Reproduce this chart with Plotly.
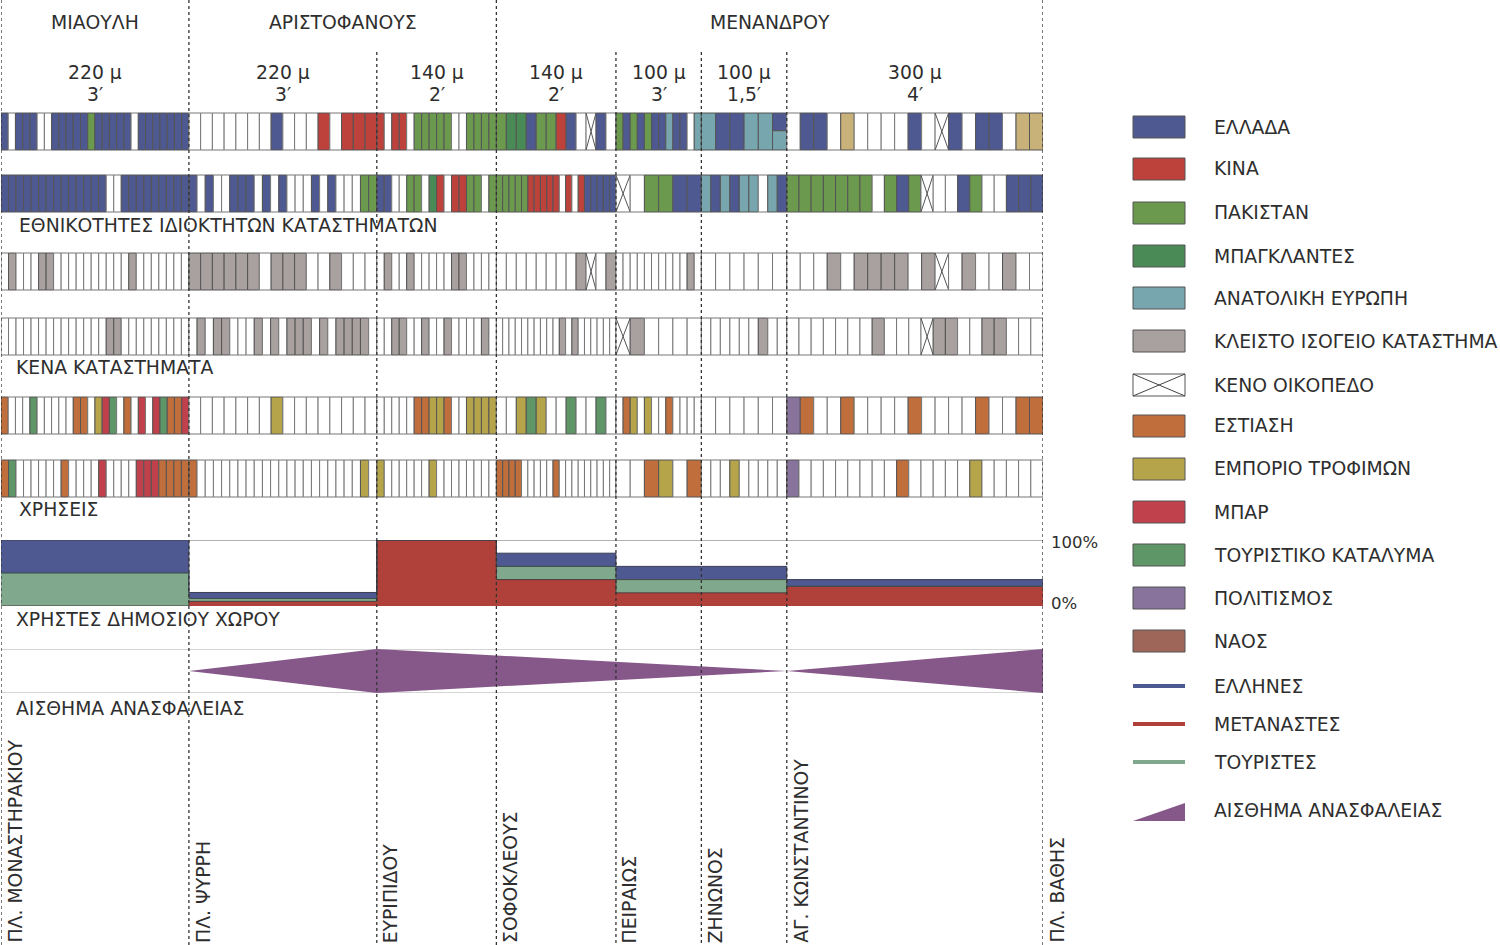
import plotly.graph_objects as go

# ---------------- DATA ----------------
SEG_BOUNDS_M = [0, 220, 440, 580, 720, 820, 920, 1220]
SEG_LENGTH = ["220 μ", "220 μ", "140 μ", "140 μ", "100 μ", "100 μ", "300 μ"]
SEG_TIME = ["3′", "3′", "2′", "2′", "3′", "1,5′", "4′"]
STREETS = ["ΜΙΑΟΥΛΗ", "ΑΡΙΣΤΟΦΑΝΟΥΣ", "ΜΕΝΑΝΔΡΟΥ"]
STREET_SPANS = [(0, 220), (220, 580), (580, 1220)]
CROSS_STREETS = ["ΠΛ. ΜΟΝΑΣΤΗΡΑΚΙΟΥ", "ΠΛ. ΨΥΡΡΗ", "ΕΥΡΙΠΙΔΟΥ", "ΣΟΦΟΚΛΕΟΥΣ",
                 "ΠΕΙΡΑΙΩΣ", "ΖΗΝΩΝΟΣ", "ΑΓ. ΚΩΝΣΤΑΝΤΙΝΟΥ", "ΠΛ. ΒΑΘΗΣ"]

# shop strips, one string per segment, one letter per shop front
OWNERS_SIDE_A = ["GWGGGWWGGGGGPGGGGGWGGGGGGG", "WWWWWWWGWWWCWCCC", "CWCCWPPPPPWWPPPP",
                 "PBBGPPCGWXGW", "PGPGPGGEGGWE", "EGGEES", "WGGWYWWWWGWXGWGGWYY"]
OWNERS_SIDE_B = ["GGGGGGGGGGGGGGWWGGGGGGGGG", "GWGWWGGGWGWGWWWGWGWWWPP", "GGWWPPWBCWCCPPWP",
                 "PPPPPCCCCCWCWCGGGGG", "XWPPGG", "EGEGEEWEG", "PPPPPPPWPGPXWWGPWWGGG"]
VACANT_SIDE_A = ["WKWWWKKWWWWWWWWWWKWWWWWWW", "KKKKKKWKKKWWKWWW", "WKWWKWWWWWKKWWWW",
                 "WWWWWWWWKXWK", "WWWWWWWWWWKW", "WWWWWW", "WWWKWKKKKWKXWKWWKWW"]
VACANT_SIDE_B = ["WWWWWWWWWWWWWWKKWWWWWWWWW", "WKWKKWWWKWKWKKKWKWKKKKW", "WWKKWWKWWKWWWWKW",
                 "WWWWWWWWWWKWKWWWWWW", "XKWWWW", "WWWWWWKWW", "WWWWWWWKWWWXKKWWKKWWW"]
USES_SIDE_A = ["RWWWTWWWWWRRWFMTWRWMWMTRRM", "WWWWWWWFWWWWWWWW", "WWWWWRRFFRWWFFFF",
               "WWFTFWWTWWTW", "WRFWFWWRWWWW", "WWWWWW", "LRWWRWWWWRWWWWRWWRR"]
USES_SIDE_B = ["RTWWWWWWRWWWWMWWWWMMMRRRR", "RWWWWWWWWWWWWWWWWWWWWFW", "FWWWWWWFWWWWWWWW",
               "RRRRWWWWWRWWWWWWWWW", "WWRFWR", "WWWFWWWWW", "LWWWWWWWWRWWWWWFWWWWW"]

# public space users (% per segment)
MIGRANTS = [0, 7, 100, 40, 20, 20, 30]
TOURISTS = [50, 4.5, 0, 20, 20, 20, 0]
GREEKS = [50, 9, 0, 20, 20, 20, 10]

# feeling of insecurity (0..1) at segment boundaries
INSEC_X = [220, 440, 920, 1220]
INSEC_V = [0, 1, 0, 1]

LEGEND_LABELS = ["ΕΛΛΑΔΑ", "ΚΙΝΑ", "ΠΑΚΙΣΤΑΝ", "ΜΠΑΓΚΛΑΝΤΕΣ", "ΑΝΑΤΟΛΙΚΗ ΕΥΡΩΠΗ",
                 "ΚΛΕΙΣΤΟ ΙΣΟΓΕΙΟ ΚΑΤΑΣΤΗΜΑ", "ΚΕΝΟ ΟΙΚΟΠΕΔΟ", "ΕΣΤΙΑΣΗ", "ΕΜΠΟΡΙΟ ΤΡΟΦΙΜΩΝ",
                 "ΜΠΑΡ", "ΤΟΥΡΙΣΤΙΚΟ ΚΑΤΑΛΥΜΑ", "ΠΟΛΙΤΙΣΜΟΣ", "ΝΑΟΣ",
                 "ΕΛΛΗΝΕΣ", "ΜΕΤΑΝΑΣΤΕΣ", "ΤΟΥΡΙΣΤΕΣ", "ΑΙΣΘΗΜΑ ΑΝΑΣΦΑΛΕΙΑΣ"]
LEGEND_CODES = ["G", "C", "P", "B", "E", "K", "X", "R", "F", "M", "T", "L", "N",
                "line_g", "line_m", "line_t", "tri"]

# ---------------- STYLE ----------------
COLORS = {
    "G": "#4e5891", "C": "#bd423c", "P": "#6b9a4f", "B": "#4a8a57", "E": "#77a6ae",
    "K": "#a9a0a0", "W": "#ffffff", "X": "#ffffff", "R": "#bf6e3c", "F": "#b5a44a",
    "M": "#c0404c", "T": "#5e9668", "L": "#87739c", "N": "#9e6658", "Y": "#c8b27a",
}
C_GREEK, C_MIGR, C_TOUR, C_INSEC = "#4e5891", "#b0403a", "#7fa88c", "#86588a"
TXT = "#2e2e2e"
FONT = "DejaVu Sans"
FS = 18.8
W, H = 1500, 945
X0_PX, X1_PX = 1, 1043
ROW_TOPS = [113, 175, 253, 318, 397, 460]
ROW_H = 37
STRIPS = [OWNERS_SIDE_A, OWNERS_SIDE_B, VACANT_SIDE_A, VACANT_SIDE_B, USES_SIDE_A, USES_SIDE_B]


def py(v):
    return 1 - v / H


def pxp(v):
    return v / W


shapes = []
annotations = []

# ---- strips of shop fronts ----
for strip, top in zip(STRIPS, ROW_TOPS):
    y_top, y_bot = py(top), py(top + ROW_H)
    for si, codes in enumerate(strip):
        a, b = SEG_BOUNDS_M[si], SEG_BOUNDS_M[si + 1]
        w = (b - a) / len(codes)
        for i, c in enumerate(codes):
            x0, x1 = a + i * w, a + (i + 1) * w
            border = "#777777" if c in "WX" else "#555555"
            if c == "S":
                mid = py(top + ROW_H * 0.48)
                shapes.append(dict(type="rect", xref="x", yref="paper", x0=x0, x1=x1, y0=mid, y1=y_top,
                                   fillcolor=COLORS["G"], line=dict(color=border, width=1)))
                shapes.append(dict(type="rect", xref="x", yref="paper", x0=x0, x1=x1, y0=y_bot, y1=mid,
                                   fillcolor=COLORS["E"], line=dict(color=border, width=1)))
                continue
            shapes.append(dict(type="rect", xref="x", yref="paper", x0=x0, x1=x1, y0=y_bot, y1=y_top,
                               fillcolor=COLORS[c], line=dict(color=border, width=1)))
            if c == "X":
                shapes.append(dict(type="line", xref="x", yref="paper", x0=x0, x1=x1, y0=y_bot, y1=y_top,
                                   line=dict(color="#555555", width=1)))
                shapes.append(dict(type="line", xref="x", yref="paper", x0=x0, x1=x1, y0=y_top, y1=y_bot,
                                   line=dict(color="#555555", width=1)))

# ---- reference lines of the lower panels ----
shapes.append(dict(type="line", xref="x", yref="y", x0=SEG_BOUNDS_M[1], x1=SEG_BOUNDS_M[-1], y0=100, y1=100,
                   line=dict(color="#666666", width=1), layer="below"))
shapes.append(dict(type="line", xref="x", yref="y", x0=SEG_BOUNDS_M[0], x1=SEG_BOUNDS_M[-1], y0=0, y1=0,
                   line=dict(color="#999999", width=1), layer="below"))
for yy in (-1, 1):
    shapes.append(dict(type="line", xref="x", yref="y2", x0=SEG_BOUNDS_M[0], x1=SEG_BOUNDS_M[-1], y0=yy, y1=yy,
                       line=dict(color="#aaaaaa", width=1), layer="below"))

# ---- dotted segment dividers ----
street_breaks = sorted({s for span in STREET_SPANS for s in span})
for xb in SEG_BOUNDS_M:
    y_start = 0 if xb in street_breaks else 52
    shapes.append(dict(type="line", xref="x", yref="paper", x0=xb, x1=xb, y0=py(y_start), y1=py(H),
                       line=dict(color="#333333", width=1.3, dash="dot")))

# ---- header texts ----
for name, (a, b) in zip(STREETS, STREET_SPANS):
    annotations.append(dict(x=(a + b) / 2, y=py(23), xref="x", yref="paper", text=name, showarrow=False,
                            font=dict(family=FONT, size=FS, color=TXT), xanchor="center", yanchor="middle"))
for i, (ln, tm) in enumerate(zip(SEG_LENGTH, SEG_TIME)):
    xc = (SEG_BOUNDS_M[i] + SEG_BOUNDS_M[i + 1]) / 2
    annotations.append(dict(x=xc, y=py(73), xref="x", yref="paper", text=ln, showarrow=False,
                            font=dict(family=FONT, size=FS, color=TXT), xanchor="center", yanchor="middle"))
    annotations.append(dict(x=xc, y=py(94), xref="x", yref="paper", text=tm, showarrow=False,
                            font=dict(family=FONT, size=FS, color=TXT), xanchor="center", yanchor="middle"))

SECTION_TITLES = [("ΕΘΝΙΚΟΤΗΤΕΣ ΙΔΙΟΚΤΗΤΩΝ ΚΑΤΑΣΤΗΜΑΤΩΝ", 17, 225), ("ΚΕΝΑ ΚΑΤΑΣΤΗΜΑΤΑ", 14, 367),
                  ("ΧΡΗΣΕΙΣ", 17, 509), ("ΧΡΗΣΤΕΣ ΔΗΜΟΣΙΟΥ ΧΩΡΟΥ", 14, 619), ("ΑΙΣΘΗΜΑ ΑΝΑΣΦΑΛΕΙΑΣ", 14, 708)]
for t, xp, yp in SECTION_TITLES:
    annotations.append(dict(x=pxp(xp), y=py(yp), xref="paper", yref="paper", text=t, showarrow=False,
                            font=dict(family=FONT, size=FS, color=TXT), xanchor="left", yanchor="middle"))

annotations.append(dict(x=pxp(1049), y=100, xref="paper", yref="y", text="100%", showarrow=False,
                        font=dict(family=FONT, size=16.5, color=TXT), xanchor="left", yanchor="middle", yshift=-2))
annotations.append(dict(x=pxp(1049), y=0, xref="paper", yref="y", text="0%", showarrow=False,
                        font=dict(family=FONT, size=16.5, color=TXT), xanchor="left", yanchor="middle", yshift=3))

# ---- cross street labels (rotated) ----
for name, xb in zip(CROSS_STREETS, SEG_BOUNDS_M):
    annotations.append(dict(x=xb, y=py(945), xref="x", yref="paper", text=name, showarrow=False,
                            textangle=-90, xshift=14, xanchor="center", yanchor="bottom",
                            font=dict(family=FONT, size=FS, color=TXT)))

# ---- legend ----
LEG_Y = [127, 169, 213, 256, 298, 341, 385, 426, 469, 512, 555, 598, 641, 686, 724, 762, 810]
LX0, LX1 = 1133, 1185
for lab, code, yc in zip(LEGEND_LABELS, LEGEND_CODES, LEG_Y):
    if code in COLORS:
        shapes.append(dict(type="rect", xref="paper", yref="paper", x0=pxp(LX0), x1=pxp(LX1),
                           y0=py(yc + 11), y1=py(yc - 11), fillcolor=COLORS[code],
                           line=dict(color="#555555", width=1)))
        if code == "X":
            shapes.append(dict(type="line", xref="paper", yref="paper", x0=pxp(LX0), x1=pxp(LX1),
                               y0=py(yc + 11), y1=py(yc - 11), line=dict(color="#444444", width=1)))
            shapes.append(dict(type="line", xref="paper", yref="paper", x0=pxp(LX0), x1=pxp(LX1),
                               y0=py(yc - 11), y1=py(yc + 11), line=dict(color="#444444", width=1)))
    elif code.startswith("line"):
        col = {"line_g": C_GREEK, "line_m": C_MIGR, "line_t": C_TOUR}[code]
        shapes.append(dict(type="line", xref="paper", yref="paper", x0=pxp(LX0), x1=pxp(LX1),
                           y0=py(yc), y1=py(yc), line=dict(color=col, width=4)))
    else:
        shapes.append(dict(type="path", xref="paper", yref="paper",
                           path=f"M {pxp(LX0)},{py(yc + 11)} L {pxp(LX1)},{py(yc + 11)} L {pxp(LX1)},{py(yc - 7)} Z",
                           fillcolor=C_INSEC, line=dict(width=0)))
    annotations.append(dict(x=pxp(1212), y=py(yc), xref="paper", yref="paper", text=lab, showarrow=False,
                            font=dict(family=FONT, size=FS, color=TXT), xanchor="left", yanchor="middle"))

# ---------------- TRACES ----------------
fig = go.Figure()


def step(vals):
    return list(vals) + [vals[-1]]


cum_m = MIGRANTS
cum_t = [m + t for m, t in zip(MIGRANTS, TOURISTS)]
cum_g = [c + g for c, g in zip(cum_t, GREEKS)]
fig.add_trace(go.Scatter(x=SEG_BOUNDS_M, y=step(cum_m), mode="lines", fill="tozeroy", fillcolor=C_MIGR,
                         line=dict(shape="hv", color="#4a3a3a", width=1), hoverinfo="skip"))
fig.add_trace(go.Scatter(x=SEG_BOUNDS_M, y=step(cum_t), mode="lines", fill="tonexty", fillcolor=C_TOUR,
                         line=dict(shape="hv", color="#3d4a44", width=1), hoverinfo="skip"))
fig.add_trace(go.Scatter(x=SEG_BOUNDS_M, y=step(cum_g), mode="lines", fill="tonexty", fillcolor=C_GREEK,
                         line=dict(shape="hv", color="#3a3d55", width=1), hoverinfo="skip"))

poly_x = INSEC_X + INSEC_X[::-1]
poly_y = INSEC_V + [-v for v in INSEC_V[::-1]]
fig.add_trace(go.Scatter(x=poly_x, y=poly_y, yaxis="y2", mode="lines", fill="toself", fillcolor=C_INSEC,
                         line=dict(width=0, color=C_INSEC), hoverinfo="skip"))

fig.update_layout(
    width=W, height=H, margin=dict(l=0, r=0, t=0, b=0),
    paper_bgcolor="white", plot_bgcolor="rgba(0,0,0,0)", showlegend=False,
    xaxis=dict(domain=[X0_PX / W, X1_PX / W], range=[SEG_BOUNDS_M[0], SEG_BOUNDS_M[-1]], visible=False,
               fixedrange=True),
    yaxis=dict(domain=[py(606), py(540)], range=[0, 100], visible=False, fixedrange=True),
    yaxis2=dict(domain=[py(693), py(649)], range=[-1, 1], visible=False, anchor="x", fixedrange=True),
    shapes=shapes, annotations=annotations,
)

fig.write_html("out.html", config={"displayModeBar": False})
